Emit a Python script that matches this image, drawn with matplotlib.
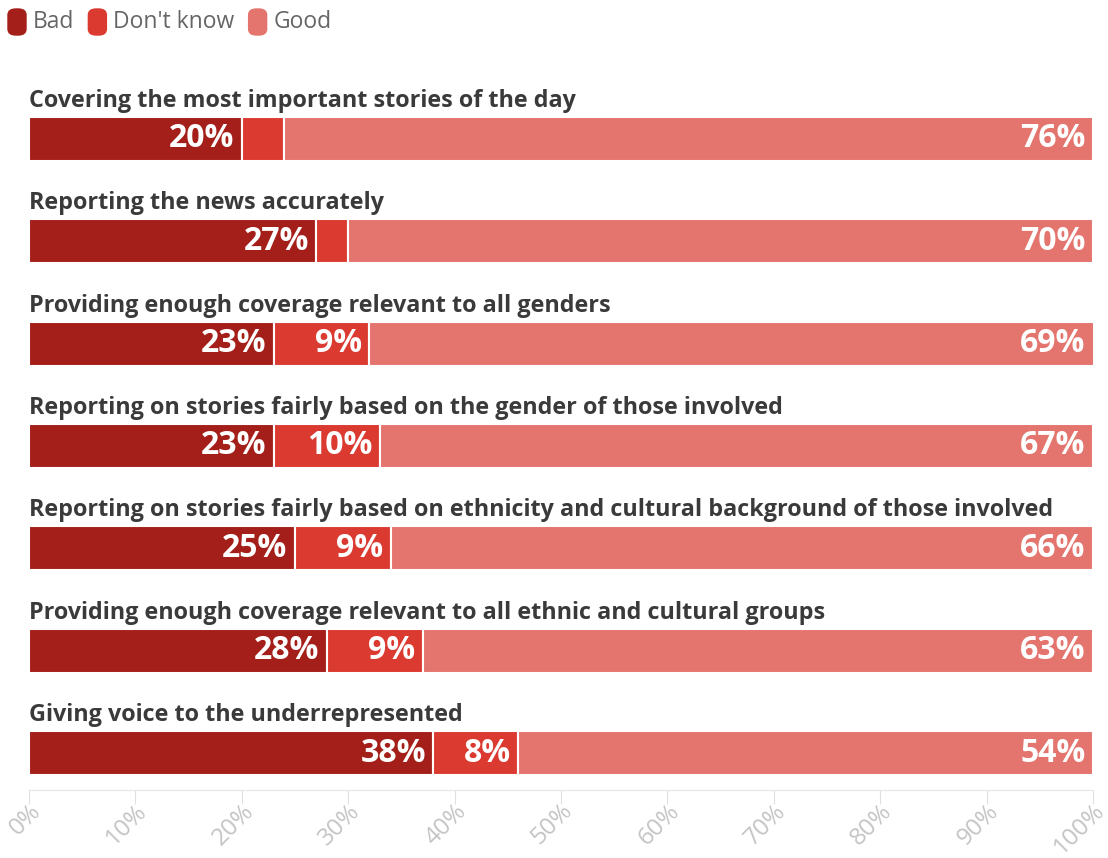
import numpy as np
import matplotlib
matplotlib.use("Agg")
import matplotlib.pyplot as plt
from matplotlib.patches import FancyBboxPatch
from matplotlib.transforms import ScaledTranslation

plt.rcParams["font.family"] = ["Open Sans", "DejaVu Sans"]

categories = [
    "Covering the most important stories of the day",
    "Reporting the news accurately",
    "Providing enough coverage relevant to all genders",
    "Reporting on stories fairly based on the gender of those involved",
    "Reporting on stories fairly based on ethnicity and cultural background of those involved",
    "Providing enough coverage relevant to all ethnic and cultural groups",
    "Giving voice to the underrepresented",
]
bad = [20, 27, 23, 23, 25, 28, 38]
dont_know = [4, 3, 9, 10, 9, 9, 8]
good = [76, 70, 69, 67, 66, 63, 54]
series = ["Bad", "Don't know", "Good"]
colors = ["#a41f19", "#db3a31", "#e4756e"]
ticks = list(range(0, 101, 10))

fig = plt.figure(figsize=(11.08, 8.58), dpi=100)
ax = fig.add_axes([29 / 1108, 1 - 790 / 858, (1093 - 29) / 1108, (790 - 62) / 858])

y = np.arange(len(categories))
h = 0.43
left = np.zeros(len(categories))
for vals, col in zip([bad, dont_know, good], colors):
    vals = np.array(vals, dtype=float)
    ax.barh(y, vals, left=left, height=h, color=col, edgecolor="white", linewidth=1.5)
    for yi, l, v in zip(y, left, vals):
        if v >= 5:
            ax.text(min(l + v, 100) - 0.7, yi, f"{int(v)}%", ha="right", va="center",
                    color="white", fontsize=23, fontweight="bold")
    left += vals

for yi, cat in zip(y, categories):
    ax.text(0, yi - 0.37, cat, ha="left", va="center", fontsize=16.8,
            fontweight="bold", color="#3a3a3a")

ax.set_xlim(0, 100)
ax.set_ylim(6.36, -0.75)
ax.set_yticks([])
ax.set_xticks(ticks)
ax.set_xticklabels([])
ax.tick_params(axis="x", length=10, color="#e0e0e0")
for s in ["top", "right", "left"]:
    ax.spines[s].set_visible(False)
ax.spines["bottom"].set_color("#e6e6e6")

# rotated tick labels hanging just below-right of each tick
shift = ScaledTranslation(0, -9 / 100, fig.dpi_scale_trans)
for t in ticks:
    ax.text(t, 0, f"{t}%", transform=ax.get_xaxis_transform() + shift,
            rotation=45, rotation_mode="anchor", ha="right", va="top",
            color="#c4c4c4", fontsize=17.5, clip_on=False)

# legend
lx = 8
for name, col in zip(series, colors):
    fig.patches.append(FancyBboxPatch((lx / 1108, 1 - 35 / 858), 18 / 1108, 26 / 858,
                                      boxstyle="round,pad=0,rounding_size=0.007",
                                      transform=fig.transFigure, color=col))
    t = fig.text((lx + 25) / 1108, 1 - 22 / 858, name, ha="left", va="center",
                 fontsize=16.5, color="#666666")
    fig.canvas.draw()
    bb = t.get_window_extent()
    lx = bb.x1 + 14

fig.savefig("out.png", dpi=100)
